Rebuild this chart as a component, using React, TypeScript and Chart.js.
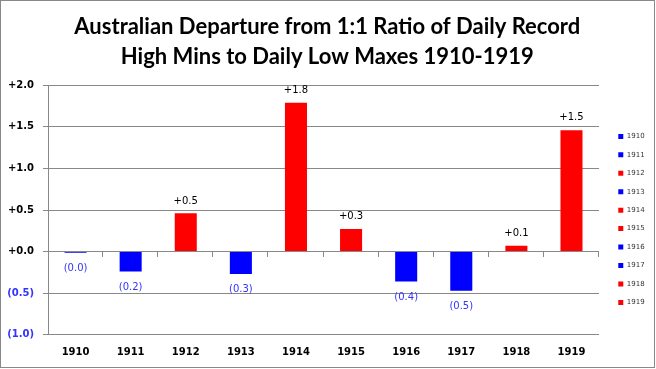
import React, { useEffect, useRef } from 'react';
import { Chart, registerables } from 'chart.js';

Chart.register(...registerables);

const categories = ['1910', '1911', '1912', '1913', '1914', '1915', '1916', '1917', '1918', '1919'];
const departures = [-0.015, -0.24, 0.46, -0.27, 1.79, 0.27, -0.36, -0.47, 0.07, 1.46];
const titleLines = ['Australian Departure from 1:1 Ratio of Daily Record', 'High Mins to Daily Low Maxes 1910-1919'];
const yMin = -1;
const yMax = 2;
const yStep = 0.5;

const RED = '#FF0000';
const BLUE = '#0000FF';
const NEG_TEXT = '#3333FF';
const GRID = '#888888';

const fmt = (v: number) => (v >= 0 ? '+' + v.toFixed(1) : '(' + Math.abs(v).toFixed(1) + ')');

const dataLabels = {
  id: 'dataLabels',
  afterDatasetsDraw(chart: any) {
    const ctx = chart.ctx;
    const meta = chart.getDatasetMeta(0);
    ctx.save();
    ctx.font = '10px "DejaVu Sans"';
    ctx.textAlign = 'center';
    ctx.textBaseline = 'middle';
    meta.data.forEach((bar: any, i: number) => {
      const v = departures[i];
      const top = Math.min(bar.y, bar.base);
      const bottom = Math.max(bar.y, bar.base);
      if (v >= 0) {
        ctx.fillStyle = '#000000';
        ctx.fillText(fmt(v), bar.x, top - 12.3);
      } else {
        ctx.fillStyle = NEG_TEXT;
        ctx.fillText(fmt(v), bar.x, bottom + 15.5);
      }
    });
    ctx.restore();
  },
};

const zeroTicks = {
  id: 'zeroTicks',
  beforeDatasetsDraw(chart: any) {
    const { ctx, scales, chartArea } = chart;
    const x = scales.x;
    const y0 = Math.round(scales.y.getPixelForValue(0));
    ctx.save();
    ctx.strokeStyle = GRID;
    ctx.lineWidth = 1;
    ctx.beginPath();
    for (let i = 0; i < categories.length; i++) {
      const bx = i < categories.length - 1
        ? (x.getPixelForValue(i) + x.getPixelForValue(i + 1)) / 2
        : chartArea.right;
      const px = Math.round(bx) - 0.5;
      ctx.moveTo(px, y0);
      ctx.lineTo(px, y0 + 5);
    }
    ctx.stroke();
    ctx.restore();
  },
};

const frame = {
  id: 'frame',
  afterDraw(chart: any) {
    const ctx = chart.ctx;
    ctx.save();
    ctx.strokeStyle = GRID;
    ctx.lineWidth = 1;
    ctx.strokeRect(0.5, 0.5, 654, 367);
    ctx.restore();
  },
};

export default function App() {
  const ref = useRef<HTMLCanvasElement | null>(null);

  useEffect(() => {
    document.body.style.margin = '0';
    const canvas = ref.current!;
    const chart = new Chart(canvas, {
      type: 'bar',
      data: {
        labels: categories,
        datasets: [
          {
            data: departures,
            backgroundColor: departures.map((v) => (v >= 0 ? RED : BLUE)),
            borderWidth: 0,
            barPercentage: 0.4,
            categoryPercentage: 1,
          },
        ],
      },
      options: {
        responsive: false,
        animation: false,
        devicePixelRatio: 1,
        layout: { padding: { left: 0, right: 1.4, top: 0, bottom: 0 } },
        plugins: {
          tooltip: { enabled: false },
          title: {
            display: true,
            text: titleLines,
            color: '#000000',
            font: { family: 'Lato', size: 22, weight: 'bold', lineHeight: '30px' as any },
            padding: { top: 12, bottom: 13.3 },
          },
          legend: {
            display: true,
            position: 'right',
            fullSize: false,
            title: { display: true, text: ' ', padding: { top: 11.8, bottom: 0 }, font: { size: 7, lineHeight: 1 } as any },
            labels: {
              boxWidth: 5,
              boxHeight: 5,
              padding: 11.44,
              color: '#333333',
              font: { family: 'DejaVu Sans', size: 7 },
              generateLabels: () =>
                categories.map((c, i) => ({
                  text: c,
                  fillStyle: departures[i] >= 0 ? RED : BLUE,
                  strokeStyle: departures[i] >= 0 ? RED : BLUE,
                  lineWidth: 0,
                  fontColor: '#333333',
                  hidden: false,
                  index: i,
                  datasetIndex: 0,
                })) as any,
            },
          },
        },
        scales: {
          x: {
            type: 'category',
            position: 'bottom',
            grid: { display: false, drawTicks: false },
            border: { display: false },
            ticks: {
              color: '#000000',
              font: { family: 'DejaVu Sans', size: 10, weight: 'bold' },
              padding: 12,
              maxRotation: 0,
            },
            afterFit: (s: any) => {
              s.height = 34.3;
            },
          },
          y: {
            type: 'linear',
            min: yMin,
            max: yMax,
            grid: { color: GRID, tickLength: 5, drawTicks: true },
            border: { display: true, color: GRID },
            ticks: {
              stepSize: yStep,
              padding: 9,
              color: (c: any) => (c.tick && c.tick.value < 0 ? NEG_TEXT : '#000000'),
              font: { family: 'DejaVu Sans', size: 10, weight: 'bold' },
              callback: (v: any) => fmt(Number(v)),
            },
            afterFit: (s: any) => {
              s.width = 48;
            },
          },
          gap: {
            type: 'linear',
            position: 'right',
            display: true,
            grid: { display: false, drawTicks: false },
            border: { display: false },
            ticks: { display: false },
            afterFit: (s: any) => {
              s.width = 7.8;
            },
          },
        },
      },
      plugins: [dataLabels, zeroTicks, frame],
    });

    return () => chart.destroy();
  }, []);

  return <canvas ref={ref} width={656} height={369} style={{ display: 'block' }} />;
}
